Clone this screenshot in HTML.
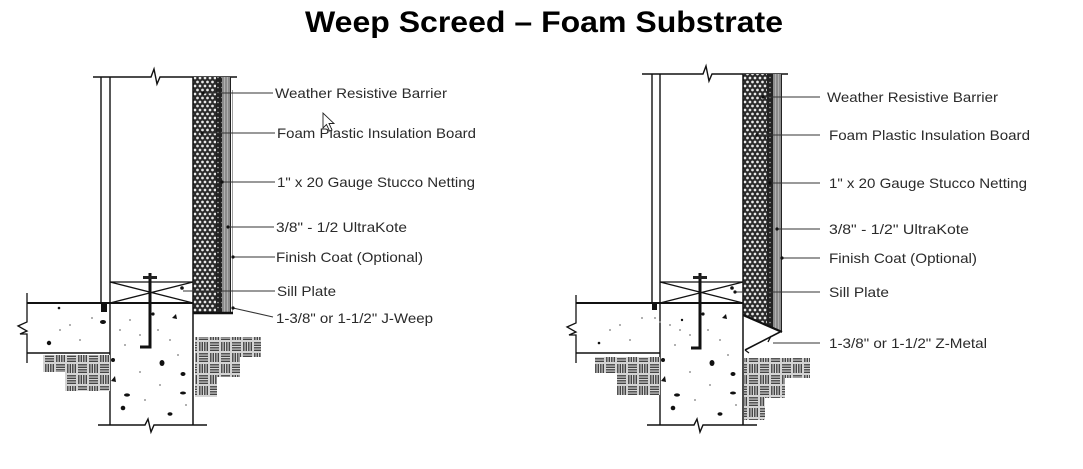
<!DOCTYPE html>
<html>
<head>
<meta charset="utf-8">
<style>
html,body{margin:0;padding:0;background:#fff;}
svg{display:block;}
text{font-family:"Liberation Sans",Arial,sans-serif;}
</style>
</head>
<body>
<svg width="1083" height="469" viewBox="0 0 1083 469" xmlns="http://www.w3.org/2000/svg">
<defs>
  <pattern id="foam" width="5" height="8" patternUnits="userSpaceOnUse">
    <rect width="5" height="8" fill="#2a2a2a"/>
    <circle cx="2.5" cy="2" r="1.35" fill="#e8e8e8"/>
    <circle cx="0" cy="6" r="1.35" fill="#e8e8e8"/>
    <circle cx="5" cy="6" r="1.35" fill="#e8e8e8"/>
  </pattern>
  <pattern id="band" width="4" height="5" patternUnits="userSpaceOnUse">
    <rect width="4" height="5" fill="#222"/>
    <circle cx="2" cy="2.5" r="0.8" fill="#aaa"/>
  </pattern>
  <pattern id="soil" width="22" height="22" patternUnits="userSpaceOnUse">
    <rect width="22" height="22" fill="#d4d4d4"/>
    <g stroke="#444" stroke-width="1.4" fill="none">
      <path d="M1,1.8H10M1,4.3H10M1,6.8H10M1,9.3H10"/>
      <path d="M12.8,1V10M15.3,1V10M17.8,1V10M20.3,1V10"/>
      <path d="M1.8,12V21M4.3,12V21M6.8,12V21M9.3,12V21"/>
      <path d="M12,12.8H21M12,15.3H21M12,17.8H21M12,20.3H21"/>
    </g>
  </pattern>
</defs>

<rect width="1083" height="469" fill="#fff"/>

<!-- Title -->
<text x="305" y="32" font-size="30" font-weight="bold" fill="#000" textLength="478" lengthAdjust="spacingAndGlyphs">Weep Screed – Foam Substrate</text>

<!-- ================= LEFT DIAGRAM ================= -->
<g stroke="#111" fill="none">
  <path d="M93,77H151L154,69L157,84L160,77H237" stroke-width="1.4"/>
  <path d="M101,77V303" stroke-width="1.4"/>
  <path d="M110,77V425" stroke-width="1.4"/>
</g>
<rect x="193" y="77" width="24" height="236" fill="url(#foam)"/>
<rect x="216" y="77" width="6" height="236" fill="url(#band)"/>
<rect x="222" y="77" width="8" height="236" fill="#8c8c8c"/>
<path d="M224.5,77V313M227.5,77V313" stroke="#bbb" stroke-width="0.8"/>
<path d="M193,77V425" stroke="#111" stroke-width="1.5"/>
<path d="M230.5,77V313" stroke="#222" stroke-width="1"/>
<path d="M232.5,90V312" stroke="#888" stroke-width="0.8"/>
<path d="M193,313H233" stroke="#111" stroke-width="2.5"/>
<g stroke="#111" fill="none" stroke-width="1.3">
  <path d="M110,282H193"/>
  <path d="M110,282L193,303M110,303L193,282"/>
</g>
<g stroke="#111" fill="none">
  <path d="M27,303H193" stroke-width="2"/>
  <path d="M27,353H110" stroke-width="1.4"/>
  <path d="M27,293V322L18,326L27,331L20,334H27V363" stroke-width="1.3"/>
  <path d="M98,425H145L148,419L151,432L154,425H207" stroke-width="1.4"/>
</g>
<path d="M150,273V347H140" stroke="#111" stroke-width="3" fill="none"/>
<rect x="143" y="276" width="14" height="3" fill="#222"/>
<path d="M43,355H110V391H65V372H43Z" fill="url(#soil)"/>
<path d="M195,337H261V357H240V377H217V397H195Z" fill="url(#soil)"/>
<g fill="#111">
  <rect x="101" y="304" width="6" height="8"/>
  <ellipse cx="103" cy="322" rx="3" ry="2"/>
  <path d="M172,318l4,-4 1,5z"/>
  <circle cx="49" cy="343" r="2.2"/>
  <ellipse cx="162" cy="363" rx="2.5" ry="3"/>
  <circle cx="113" cy="360" r="2"/>
  <path d="M111,381l4,-5 1,6z"/>
  <ellipse cx="183" cy="374" rx="2.5" ry="2"/>
  <ellipse cx="127" cy="395" rx="3" ry="1.6"/>
  <ellipse cx="183" cy="393" rx="3" ry="1.5"/>
  <circle cx="123" cy="408" r="2.3"/>
  <ellipse cx="170" cy="414" rx="2.5" ry="1.7"/>
  <circle cx="59" cy="308" r="1.3"/>
  <circle cx="153" cy="314" r="1.6"/>
  <circle cx="182" cy="288" r="1.8"/>
</g>
<g fill="#999">
  <circle cx="70" cy="325" r="1"/><circle cx="92" cy="318" r="1"/><circle cx="60" cy="330" r="1"/>
  <circle cx="130" cy="320" r="1"/><circle cx="140" cy="335" r="1"/><circle cx="170" cy="340" r="1"/>
  <circle cx="125" cy="345" r="1"/><circle cx="178" cy="355" r="1"/><circle cx="140" cy="372" r="1"/>
  <circle cx="160" cy="385" r="1"/><circle cx="120" cy="330" r="1"/><circle cx="145" cy="400" r="1"/>
  <circle cx="186" cy="405" r="1"/><circle cx="80" cy="340" r="1"/><circle cx="158" cy="330" r="1"/>
</g>
<g stroke="#333" stroke-width="1.1" fill="none">
  <path d="M203,93H273"/>
  <path d="M202,133H275"/>
  <path d="M222,182H275"/>
  <path d="M228,227H274"/>
  <path d="M233,257H275"/>
  <path d="M183,291H275"/>
  <path d="M233,308L273,317"/>
</g>
<g fill="#111">
  <circle cx="203" cy="93" r="1.6"/><circle cx="202" cy="133" r="1.6"/><circle cx="222" cy="182" r="1.6"/>
  <circle cx="228" cy="227" r="1.6"/><circle cx="233" cy="257" r="1.6"/><circle cx="233" cy="308" r="1.6"/>
</g>
<g font-size="14" fill="#2a2a2a">
  <text x="275" y="98" textLength="172" lengthAdjust="spacingAndGlyphs">Weather Resistive Barrier</text>
  <text x="277" y="138" textLength="199" lengthAdjust="spacingAndGlyphs">Foam Plastic Insulation Board</text>
  <text x="277" y="187" textLength="198" lengthAdjust="spacingAndGlyphs">1" x 20 Gauge Stucco Netting</text>
  <text x="276" y="232" textLength="131" lengthAdjust="spacingAndGlyphs">3/8" - 1/2 UltraKote</text>
  <text x="276" y="262" textLength="147" lengthAdjust="spacingAndGlyphs">Finish Coat (Optional)</text>
  <text x="277" y="296" textLength="59" lengthAdjust="spacingAndGlyphs">Sill Plate</text>
  <text x="276" y="323" textLength="157" lengthAdjust="spacingAndGlyphs">1-3/8" or 1-1/2" J-Weep</text>
</g>
<path d="M323,113L323,128L326.5,124.5L329.5,131L332,130L329,123.5L334,123.5Z" fill="#fff" stroke="#222" stroke-width="0.9"/>

<!-- ================= RIGHT DIAGRAM ================= -->
<g stroke="#111" fill="none">
  <path d="M642,74H703L706,66L709,81L712,74H788" stroke-width="1.4"/>
  <path d="M652,74V303" stroke-width="1.4"/>
  <path d="M660,74V425" stroke-width="1.4"/>
</g>
<clipPath id="rclip"><path d="M743,74H783V332L743,315Z"/></clipPath>
<g clip-path="url(#rclip)">
  <rect x="743" y="74" width="25" height="260" fill="url(#foam)"/>
  <rect x="767" y="74" width="6" height="260" fill="url(#band)"/>
  <rect x="773" y="74" width="8" height="260" fill="#8c8c8c"/>
  <path d="M775.5,74V334M778.5,74V334" stroke="#bbb" stroke-width="0.8"/>
  <path d="M781.5,74V334" stroke="#222" stroke-width="1"/>
</g>
<path d="M743,74V425" stroke="#111" stroke-width="1.5"/>
<path d="M743,315L782,332" stroke="#111" stroke-width="2.2"/>
<path d="M780,332L745,350" stroke="#111" stroke-width="1.6" fill="none"/>
<path d="M771,336L768,342" stroke="#111" stroke-width="1.3"/>
<path d="M745,350L749,353" stroke="#111" stroke-width="1.2"/>
<g stroke="#111" fill="none" stroke-width="1.3">
  <path d="M660,282H743"/>
  <path d="M660,282L743,303M660,303L743,282"/>
</g>
<g stroke="#111" fill="none">
  <path d="M576,303H743" stroke-width="2"/>
  <path d="M576,353H660" stroke-width="1.4"/>
  <path d="M576,295V323L567,327L576,332L569,335H576V363" stroke-width="1.3"/>
  <path d="M647,425H694L697,419L700,432L703,425H757" stroke-width="1.4"/>
</g>
<path d="M700,273V348H691" stroke="#111" stroke-width="3" fill="none"/>
<rect x="693" y="276" width="14" height="3" fill="#222"/>
<path d="M595,357H660V395H617V373H595Z" fill="url(#soil)"/>
<path d="M744,358H810V378H785V398H765V420H744Z" fill="url(#soil)"/>
<g fill="#111">
  <rect x="652" y="304" width="5" height="6"/>
  <path d="M722,318l4,-4 1,5z"/>
  <circle cx="599" cy="343" r="1.3"/>
  <ellipse cx="712" cy="363" rx="2.5" ry="3"/>
  <circle cx="663" cy="360" r="2"/>
  <path d="M661,381l4,-5 1,6z"/>
  <ellipse cx="733" cy="374" rx="2.5" ry="2"/>
  <ellipse cx="677" cy="395" rx="3" ry="1.6"/>
  <ellipse cx="733" cy="393" rx="3" ry="1.5"/>
  <circle cx="673" cy="408" r="2.3"/>
  <ellipse cx="720" cy="414" rx="2.5" ry="1.7"/>
  <circle cx="703" cy="314" r="1.6"/>
  <circle cx="732" cy="288" r="1.8"/>
  <circle cx="682" cy="320" r="1.2"/>
</g>
<g fill="#999">
  <circle cx="620" cy="325" r="1"/><circle cx="642" cy="318" r="1"/><circle cx="610" cy="330" r="1"/>
  <circle cx="680" cy="330" r="1"/><circle cx="690" cy="335" r="1"/><circle cx="720" cy="340" r="1"/>
  <circle cx="675" cy="345" r="1"/><circle cx="728" cy="355" r="1"/><circle cx="690" cy="372" r="1"/>
  <circle cx="710" cy="385" r="1"/><circle cx="670" cy="325" r="1"/><circle cx="695" cy="400" r="1"/>
  <circle cx="736" cy="405" r="1"/><circle cx="630" cy="340" r="1"/><circle cx="708" cy="330" r="1"/>
  <circle cx="655" cy="318" r="1"/><circle cx="660" cy="322" r="1"/>
</g>
<g stroke="#333" stroke-width="1.1" fill="none">
  <path d="M763,97H820"/>
  <path d="M757,135H820"/>
  <path d="M770,183H820"/>
  <path d="M777,229H820"/>
  <path d="M782,258H820"/>
  <path d="M735,292H820"/>
  <path d="M773,343H820"/>
</g>
<g fill="#111">
  <circle cx="763" cy="97" r="1.6"/><circle cx="757" cy="135" r="1.6"/><circle cx="770" cy="183" r="1.6"/>
  <circle cx="777" cy="229" r="1.6"/><circle cx="782" cy="258" r="1.6"/><circle cx="735" cy="292" r="1.6"/>
</g>
<g font-size="14" fill="#2a2a2a">
  <text x="827" y="102" textLength="171" lengthAdjust="spacingAndGlyphs">Weather Resistive Barrier</text>
  <text x="829" y="140" textLength="201" lengthAdjust="spacingAndGlyphs">Foam Plastic Insulation Board</text>
  <text x="829" y="188" textLength="198" lengthAdjust="spacingAndGlyphs">1" x 20 Gauge Stucco Netting</text>
  <text x="829" y="234" textLength="140" lengthAdjust="spacingAndGlyphs">3/8" - 1/2" UltraKote</text>
  <text x="829" y="263" textLength="148" lengthAdjust="spacingAndGlyphs">Finish Coat (Optional)</text>
  <text x="829" y="297" textLength="60" lengthAdjust="spacingAndGlyphs">Sill Plate</text>
  <text x="829" y="348" textLength="158" lengthAdjust="spacingAndGlyphs">1-3/8" or 1-1/2" Z-Metal</text>
</g>
</svg>
</body>
</html>
